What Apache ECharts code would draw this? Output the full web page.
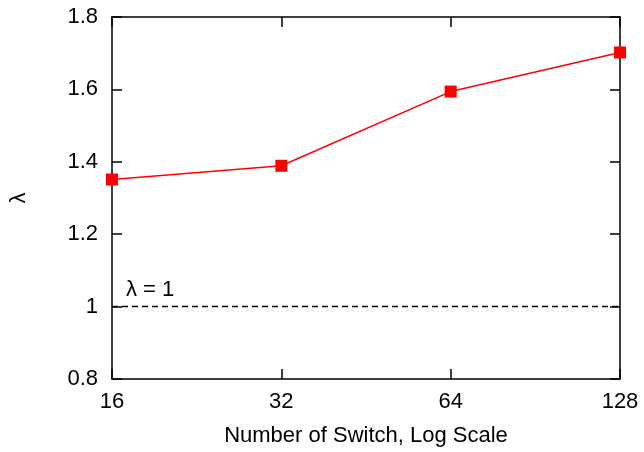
<!DOCTYPE html>
<html>
<head>
<meta charset="utf-8">
<script src="https://cdn.jsdelivr.net/npm/echarts@6/dist/echarts.min.js"></script>
<style>
  html, body { margin: 0; padding: 0; background: #fff; }
  #chart { width: 644px; height: 452px; }
</style>
</head>
<body>
<div id="chart"></div>
<script>
// number of switches (log scale, base 2)
var switches = [16, 32, 64, 128];
var lambda = [1.351, 1.389, 1.594, 1.702];
var refLevel = 1;

var font = 'Liberation Sans, Arial, Helvetica, sans-serif';
var black = '#000';
var fs = 22;

var chart = echarts.init(document.getElementById('chart'));

var tickIn = { show: true, inside: true, length: 10, lineStyle: { color: black, width: 1.5 } };
var lineBlack = { show: true, onZero: false, lineStyle: { color: black, width: 1.5 } };

var option = {
    animation: false,
    grid: { left: 112, right: 24, top: 17, bottom: 73, outerBoundsMode: 'none', containLabel: false },
    xAxis: [
        {
            type: 'log',
            logBase: 2,
            min: 16,
            max: 128,
            interval: 1,
            name: 'Number of Switch, Log Scale',
            nameLocation: 'middle',
            nameGap: 46,
            nameTextStyle: { color: black, fontSize: fs, fontFamily: font },
            axisLine: lineBlack,
            axisTick: tickIn,
            axisLabel: { color: black, fontSize: fs, fontFamily: font, margin: 12 },
            splitLine: { show: false }
        },
        {
            type: 'log',
            logBase: 2,
            min: 16,
            max: 128,
            interval: 1,
            position: 'top',
            axisLine: lineBlack,
            axisTick: tickIn,
            axisLabel: { show: false },
            splitLine: { show: false }
        }
    ],
    yAxis: [
        {
            type: 'value',
            min: 0.8,
            max: 1.8,
            interval: 0.2,
            name: 'λ',
            nameLocation: 'middle',
            nameGap: 82,
            nameRotate: 90,
            nameTextStyle: { color: black, fontSize: fs, fontFamily: font },
            axisLine: lineBlack,
            axisTick: tickIn,
            axisLabel: {
                color: black, fontSize: fs, fontFamily: font, margin: 14,
                formatter: function (v) { return String(Math.round(v * 10) / 10); }
            },
            splitLine: { show: false }
        },
        {
            type: 'value',
            min: 0.8,
            max: 1.8,
            interval: 0.2,
            position: 'right',
            axisLine: lineBlack,
            axisTick: tickIn,
            axisLabel: { show: false },
            splitLine: { show: false }
        }
    ],
    series: [
        {
            type: 'line',
            data: switches.map(function (s, i) { return [s, lambda[i]]; }),
            symbol: 'rect',
            symbolSize: 12,
            itemStyle: { color: '#ff0000' },
            lineStyle: { color: '#ff0000', width: 1.5 },
            z: 5,
            markLine: {
                silent: true,
                symbol: 'none',
                lineStyle: { color: black, type: [6, 4], width: 1.3 },
                label: {
                    show: true,
                    position: 'insideStartTop',
                    formatter: 'λ = 1',
                    color: black,
                    fontSize: fs,
                    fontFamily: font,
                    distance: [14, 6]
                },
                data: [{ yAxis: refLevel }]
            }
        }
    ]
};

chart.setOption(option, true);
window.addEventListener('resize', function () {
    chart.resize();
});
</script>
</body>
</html>
